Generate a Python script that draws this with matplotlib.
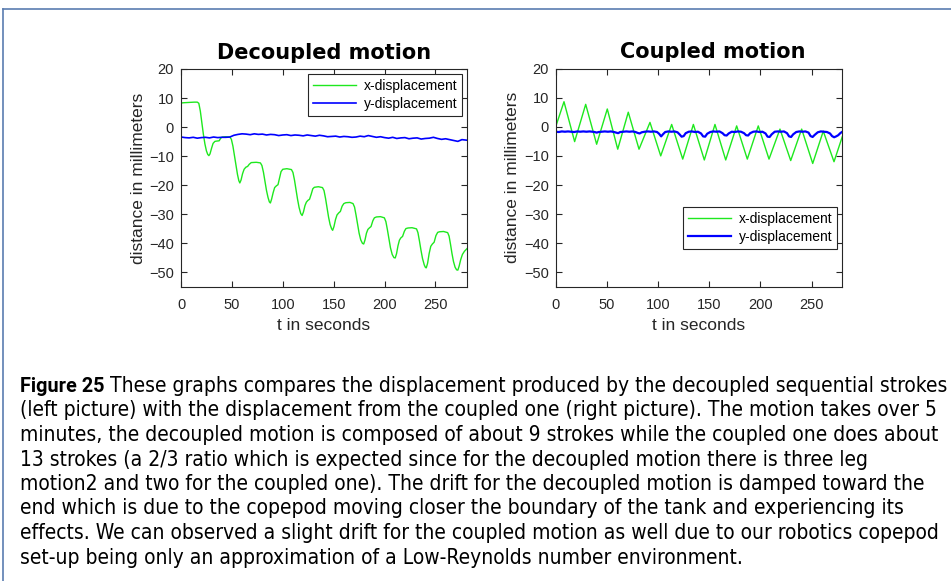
import matplotlib
matplotlib.use("Agg")
import matplotlib.pyplot as plt
from matplotlib.lines import Line2D

# ---------------- data ----------------
# Decoupled motion: x-displacement
t_dec = [0, 3, 8, 13, 16, 17.5, 19, 20.5, 22, 23.5, 25, 26.3, 27.4, 28.5, 30, 31.5, 33.3, 35, 37.5, 39, 40.5, 44, 48,
         49.5, 51, 52.5, 54, 55.5, 56.8, 57.8, 59, 60.5, 62, 63.7, 65.5, 67, 69, 74, 78,
         79.5, 81, 82.5, 84, 85.5, 86.8, 87.8, 89, 90.5, 92, 93.7, 95.3, 96.8, 98.3, 100, 104, 108.5,
         110, 111.5, 113, 114.5, 116, 117.6, 119, 120.3, 121.8, 123.2, 124.7, 126.3, 128, 129.5, 131, 135, 139,
         140.5, 142, 143.5, 145, 146.5, 148, 149, 150.3, 151.8, 153.3, 155, 156.6, 158.3, 160, 162, 166, 169,
         170.5, 172, 173.5, 175, 176.6, 178.3, 179.5, 180.8, 182.2, 183.6, 185, 186.7, 188.5, 190, 192, 196, 199.8,
         201.3, 202.8, 204.3, 205.8, 207.5, 209.2, 210.5, 211.8, 213.2, 214.6, 216, 217.7, 219.5, 221, 223, 227, 231.4,
         232.8, 234.3, 235.8, 237.3, 239, 240.2, 241, 242.3, 243.8, 245.4, 247, 248.7, 250.5, 252.2, 254, 258, 262,
         263.4, 264.8, 266.2, 267.7, 269.3, 270.8, 272, 273.3, 274.8, 276.5, 278.5, 281]
x_dec = [8.3, 8.4, 8.5, 8.6, 8.6, 8.2, 5.5, 1.5, -2.5, -5.8, -8.2, -9.4, -9.8, -9.2, -7.3, -5.6, -4.9, -4.8, -4.7, -3.8, -3.4, -3.3, -3.4,
         -4.2, -6.5, -9.8, -13.3, -16.3, -18.4, -19.2, -18.2, -16.0, -14.5, -13.8, -13.5, -12.8, -12.2, -12.1, -12.3,
         -13.2, -15.5, -18.6, -21.8, -24.2, -25.7, -26.1, -24.8, -22.6, -20.8, -20.2, -19.8, -17.5, -15.3, -14.5, -14.3, -14.6,
         -15.6, -18.2, -21.5, -24.8, -27.6, -29.7, -30.4, -29.2, -27.0, -25.8, -25.2, -24.8, -23.0, -21.2, -20.7, -20.5, -20.8,
         -21.8, -24.5, -27.8, -31.0, -33.5, -35.0, -35.5, -34.2, -31.8, -30.2, -29.5, -29.0, -27.2, -26.3, -26.0, -25.9, -26.3,
         -27.5, -30.3, -33.5, -36.5, -38.8, -40.0, -40.2, -38.8, -36.5, -35.2, -34.7, -34.2, -32.2, -31.2, -30.9, -30.8, -31.2,
         -32.5, -35.3, -38.5, -41.5, -43.8, -44.9, -45.0, -43.5, -40.8, -38.9, -38.1, -37.6, -35.8, -34.9, -34.7, -34.6, -35.0,
         -36.3, -39.2, -42.4, -45.2, -47.4, -48.3, -48.4, -46.8, -43.5, -41.0, -40.2, -39.6, -37.3, -36.2, -36.0, -35.9, -36.3,
         -37.5, -40.3, -43.4, -46.2, -48.2, -49.1, -49.2, -47.8, -45.6, -43.8, -42.7, -41.8]

# Decoupled motion: y-displacement
t_dec_y = [0, 4, 8, 12, 16, 20, 24, 28, 32, 36, 40, 44, 48, 52, 56, 60, 64, 68, 72, 76, 80, 84, 88, 92, 96,
           100, 104, 108, 112, 116, 120, 124, 128, 132, 136, 140, 144, 148, 152, 156, 160, 164, 168, 172, 176,
           180, 184, 188, 192, 196, 200, 204, 208, 212, 216, 220, 224, 228, 232, 236, 240, 244, 248, 252, 256,
           260, 264, 268, 272, 276, 281]
y_dec = [-3.4, -3.6, -3.7, -3.5, -3.8, -3.6, -3.5, -3.7, -3.4, -3.6, -3.5, -3.5, -3.4, -2.8, -2.5, -2.3, -2.4, -2.6,
         -2.3, -2.5, -2.4, -2.7, -2.5, -2.6, -2.9, -2.7, -2.6, -2.9, -2.7, -2.8, -3.0, -2.7, -2.9, -3.1, -2.8, -3.0,
         -3.3, -3.2, -3.1, -3.4, -3.2, -3.3, -3.5, -3.4, -3.1, -3.3, -2.9, -3.2, -3.5, -3.3, -3.6, -3.8, -3.5, -3.9,
         -3.7, -3.6, -4.0, -3.8, -3.7, -4.1, -3.9, -3.8, -3.5, -3.9, -4.2, -4.0, -4.3, -4.6, -4.9, -4.3, -4.5]

# Coupled motion: x-displacement (peaks and troughs)
t_cou = [0, 8.1, 18.5, 29.3, 40, 50.4, 60.6, 70.9, 81.4, 92.1, 102.6, 113.3, 124.1, 134.5, 145.2, 155.6,
         166.1, 176.8, 187.2, 197.9, 208.4, 219.1, 229.6, 240.3, 251.1, 261.4, 271.9, 280]
x_cou = [0.0, 8.6, -5.1, 7.7, -6.0, 6.1, -7.7, 5.0, -7.7, 1.5, -10.0, 0.8, -11.1, 0.8, -11.4, 0.8,
         -11.4, 0.3, -11.1, 0.3, -11.1, -0.8, -11.6, -0.8, -12.6, -1.5, -12.0, -3.4]

# Coupled motion: y-displacement
t_cou_y = [0, 3, 6, 9, 12, 15, 18, 21, 24, 27, 30, 33, 36, 38, 40, 42, 45, 48, 51, 54, 57, 59, 61, 63, 66, 69,
           72, 75, 78, 80, 82, 84, 87, 90, 93, 96, 99, 101, 103, 105, 107, 110, 113, 116, 119, 121, 123, 125,
           127, 130, 133, 136, 139, 142, 144, 146, 148, 151, 154, 157, 160, 163, 165, 167, 169, 172, 175, 178,
           181, 184, 186, 188, 190, 193, 196, 199, 202, 205, 207, 209, 211, 214, 217, 220, 223, 226, 228, 230,
           232, 235, 238, 241, 244, 247, 249, 251, 253, 256, 259, 262, 265, 268, 270, 272, 274, 276, 278, 280]
y_cou = [-1.7, -1.8, -1.6, -1.7, -1.6, -1.7, -1.8, -1.6, -1.7, -1.6, -1.7, -1.6, -1.7, -1.8, -2.0, -1.8, -1.7,
         -1.6, -1.7, -1.6, -1.8, -2.0, -2.2, -1.8, -1.7, -1.6, -1.7, -1.6, -1.8, -2.1, -2.3, -1.9, -1.7, -1.6,
         -1.7, -1.6, -1.8, -2.4, -3.3, -2.5, -1.8, -1.6, -1.7, -1.6, -1.9, -2.6, -3.4, -3.2, -2.2, -1.7, -1.6,
         -1.8, -1.7, -2.3, -3.3, -3.4, -2.4, -1.8, -1.6, -1.7, -1.6, -2.2, -2.9, -3.0, -2.3, -1.7, -1.8, -1.6,
         -1.7, -2.2, -2.9, -3.0, -2.2, -1.7, -1.6, -1.8, -1.7, -2.3, -3.4, -3.5, -2.6, -1.7, -1.6, -1.7, -1.6,
         -2.2, -3.3, -3.5, -2.6, -1.8, -1.6, -1.7, -1.6, -2.0, -3.2, -3.5, -2.8, -1.9, -1.6, -1.7, -1.8, -2.3,
         -3.2, -3.6, -3.3, -2.9, -2.2, -1.7]

x_ticks = [0, 50, 100, 150, 200, 250]
y_ticks = [-50, -40, -30, -20, -10, 0, 10, 20]
titles = ["Decoupled motion", "Coupled motion"]
series_labels = ["x-displacement", "y-displacement"]
x_label = "t in seconds"
y_label = "distance in millimeters"

caption_bold = "Figure 25"
caption_lines = [
    "These graphs compares the displacement produced by the decoupled sequential strokes",
    "(left picture) with the displacement from the coupled one (right picture). The motion takes over 5",
    "minutes, the decoupled motion is composed of about 9 strokes while the coupled one does about",
    "13 strokes (a 2/3 ratio which is expected since for the decoupled motion there is three leg",
    "motion2 and two for the coupled one). The drift for the decoupled motion is damped toward the",
    "end which is due to the copepod moving closer the boundary of the tank and experiencing its",
    "effects. We can observed a slight drift for the coupled motion as well due to our robotics copepod",
    "set-up being only an approximation of a Low-Reynolds number environment.",
]

# ---------------- figure ----------------
W, H = 951, 581
fig = plt.figure(figsize=(W / 100, H / 100), dpi=100)
fig.patch.set_facecolor("white")

GREEN = "#1ee81e"
BLUE = "#0000ff"
tick_font = ["Liberation Sans", "DejaVu Sans"]


def px_rect(x0, y0, x1, y1):
    return [x0 / W, 1 - y1 / H, (x1 - x0) / W, (y1 - y0) / H]


ax1 = fig.add_axes(px_rect(181, 69, 467, 287))
ax2 = fig.add_axes(px_rect(555.7, 68.5, 842.3, 287))

ax1.plot(t_dec, x_dec, color=GREEN, lw=1.0, label=series_labels[0])
ax1.plot(t_dec_y, y_dec, color=BLUE, lw=1.2, label=series_labels[1])
ax2.plot(t_cou, x_cou, color=GREEN, lw=1.0, label=series_labels[0])
ax2.plot(t_cou_y, y_cou, color=BLUE, lw=1.6, label=series_labels[1])

for ax, xmax, title, tx, ylx in [(ax1, 281, titles[0], 0.5, -0.148),
                                 (ax2, 280, titles[1], 0.549, -0.15)]:
    ax.set_xlim(0, xmax)
    ax.set_ylim(-55, 20)
    ax.set_xticks(x_ticks)
    ax.set_yticks(y_ticks)
    ax.tick_params(direction="in", top=True, right=True, length=4, width=0.8,
                   color="#262626", labelsize=10.5, labelcolor="#262626")
    ax.tick_params(axis="x", pad=8)
    ax.tick_params(axis="y", pad=5)
    for lab in ax.get_xticklabels() + ax.get_yticklabels():
        lab.set_family(tick_font)
    for s in ax.spines.values():
        s.set_color("#262626")
        s.set_linewidth(0.8)
    t = ax.set_title(title, fontsize=15, fontweight="bold", family="DejaVu Sans", pad=7.5)
    t.set_x(tx)
    ax.set_xlabel(x_label, fontsize=12.5, family=tick_font, color="#262626")
    ax.xaxis.set_label_coords(0.5, -0.14)
    ax.set_ylabel(y_label, fontsize=12.5, family=tick_font, color="#262626")
    ax.yaxis.label.set_va("center")
    ax.yaxis.set_label_coords(ylx, 0.5)

leg_kw = dict(prop={"family": tick_font, "size": 10}, fancybox=False, framealpha=1,
              edgecolor="#262626", handlelength=3.1, handletextpad=0.55,
              labelspacing=0.3, borderpad=0.35, borderaxespad=0)
l1 = ax1.legend(loc="upper right", bbox_to_anchor=(0.9825, 0.977), **leg_kw)
l2 = ax2.legend(loc="lower right", bbox_to_anchor=(0.9815, 0.174), **leg_kw)
for lg in (l1, l2):
    lg.get_frame().set_linewidth(0.8)

# ---------------- outer box ----------------
BORDER = "#5a7db0"
fig.add_artist(Line2D([3 / W, 1.0], [1 - 9 / H, 1 - 9 / H], color=BORDER, lw=1.2))
fig.add_artist(Line2D([3 / W, 3 / W], [0, 1 - 9 / H], color=BORDER, lw=1.2))

# ---------------- caption ----------------
cap_font = ["DejaVu Sans"]
x0 = 20
base0 = 392
step = 24.5
fs = 13
bold = fig.text(x0 / W, 1 - base0 / H, caption_bold, fontsize=fs, fontweight="bold",
                family=["Roboto", "DejaVu Sans"], va="baseline", ha="left", color="black")
texts = []
for i, line in enumerate(caption_lines):
    texts.append(fig.text(x0 / W, 1 - (base0 + i * step) / H, line, fontsize=fs,
                          family=cap_font, fontstretch="condensed",
                          va="baseline", ha="left", color="black"))

fig.canvas.draw()
r = fig.canvas.get_renderer()
# common size: line 7 ("effects. ...") ends near the right edge of the text block
w7 = texts[6].get_window_extent(r).width
fs2 = fs * (938 - x0) / w7
for tt in texts:
    tt.set_fontsize(fs2)
wb = bold.get_window_extent(r).width
fsb = min(fs2, fs * (104 - x0) / wb)
bold.set_fontsize(fsb)
fig.canvas.draw()
wb = bold.get_window_extent(r).width
texts[0].set_x((x0 + wb + 5) / W)

fig.savefig("out.png", dpi=100, facecolor="white")
